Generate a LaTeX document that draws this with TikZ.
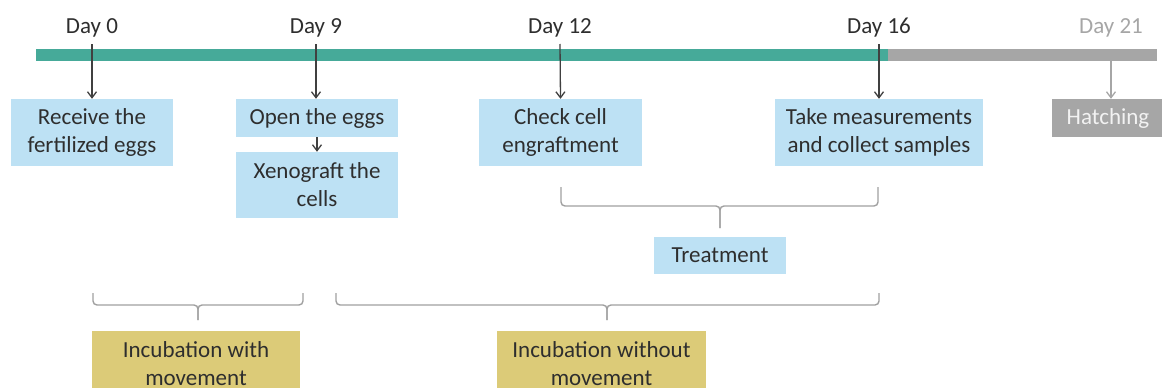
\documentclass[tikz,border=0pt]{standalone}
\usepackage{fontspec}
\setmainfont{Carlito}
\usetikzlibrary{arrows.meta}
\definecolor{barteal}{HTML}{46AA99}
\definecolor{bargray}{HTML}{A6A6A6}
\definecolor{boxblue}{HTML}{BDE1F4}
\definecolor{boxolive}{HTML}{DCCB78}
\definecolor{txtdark}{HTML}{2E2E2E}
\definecolor{arrdark}{HTML}{404040}
\definecolor{bracegray}{HTML}{A0A0A0}
\definecolor{lighttxt}{HTML}{F2F2F2}
\tikzset{
  lbl/.style={font=\fontsize{23}{28}\selectfont, text=txtdark, inner sep=0pt, anchor=base},
  bbox/.style={fill=boxblue, text=txtdark, align=center, font=\fontsize{23}{28}\selectfont, inner sep=0pt},
  obox/.style={fill=boxolive, text=txtdark, align=center, font=\fontsize{23}{28}\selectfont, inner sep=0pt},
  arr/.style={draw=arrdark, line width=1.3pt, -{Straight Barb[length=6pt,width=9pt]}},
  garr/.style={draw=bargray, line width=1.3pt, -{Straight Barb[length=6pt,width=9pt]}},
  brc/.style={draw=bracegray, line width=1.4pt, rounded corners=4pt},
}
\begin{document}
\begin{tikzpicture}[x=1pt,y=-1pt]
\clip (0,0) rectangle (1162,388);
% timeline bar
\coordinate (bs) at (36,55);
\coordinate (bm) at (888,55);
\coordinate (be) at (1157,55);
\draw[barteal, line width=12pt] (bs) -- (bm);
\draw[bargray, line width=12pt] (bm) -- (be);
% day labels
\node[lbl] (d0) at (92,34) {Day 0};
\node[lbl] (d9) at (316,34) {Day 9};
\node[lbl] (d12) at (560,34) {Day 12};
\node[lbl] (d16) at (879,34) {Day 16};
\node[lbl, text=bargray] (d21) at (1111,34) {Day 21};
\coordinate (t0) at (92,44);
\coordinate (t9) at (316,44);
\coordinate (t12) at (560,44);
\coordinate (t16) at (879,44);
\coordinate (t21) at (1111,61);
% boxes
\node[bbox, minimum width=162pt, minimum height=67pt] (b0) at (92,132.5) {Receive the\\fertilized eggs};
\node[bbox, minimum width=162pt, minimum height=38pt] (b9a) at (317,118) {Open the eggs};
\node[bbox, minimum width=162pt, minimum height=66pt] (b9b) at (317,185) {Xenograft the\\cells};
\node[bbox, minimum width=163pt, minimum height=67pt] (b12) at (560.5,132.5) {Check cell\\engraftment};
\node[bbox, minimum width=208pt, minimum height=67pt] (b16) at (879,132.5) {Take measurements\\and collect samples};
\node[fill=bargray, text=lighttxt, font=\fontsize{23}{28}\selectfont, inner sep=0pt, minimum width=112pt, minimum height=38pt] (b21) at (1108,118) {Hatching};
\node[bbox, minimum width=132pt, minimum height=37pt] (tr) at (720,255.5) {Treatment};
\node[obox, minimum width=208pt, minimum height=67pt] (iw) at (196,364) {Incubation with\\movement};
\node[obox, minimum width=209pt, minimum height=67pt] (iwo) at (601.5,364) {Incubation without\\movement};
% arrows
\draw[arr] (t0) -- (b0.north);
\draw[arr] (t9) -- (t9 |- b9a.north);
\draw[arr] (b9a.south) -- (b9b.north);
\draw[arr] (t12) -- (b12.north);
\draw[arr] (t16) -- (b16.north -| t16);
\draw[garr] (t21) -- (b21.north -| t21);
% braces
\draw[brc] (561,187) -- (561,206) -- (720,206) -- (720,228);
\draw[brc] (878,187) -- (878,206) -- (720,206) -- (720,228);
\draw[brc] (93,293) -- (93,305) -- (198,305) -- (198,320);
\draw[brc] (303,293) -- (303,305) -- (198,305) -- (198,320);
\draw[brc] (336,293) -- (336,305) -- (607,305) -- (607,320);
\draw[brc] (879,293) -- (879,305) -- (607,305) -- (607,320);
\end{tikzpicture}
\end{document}
